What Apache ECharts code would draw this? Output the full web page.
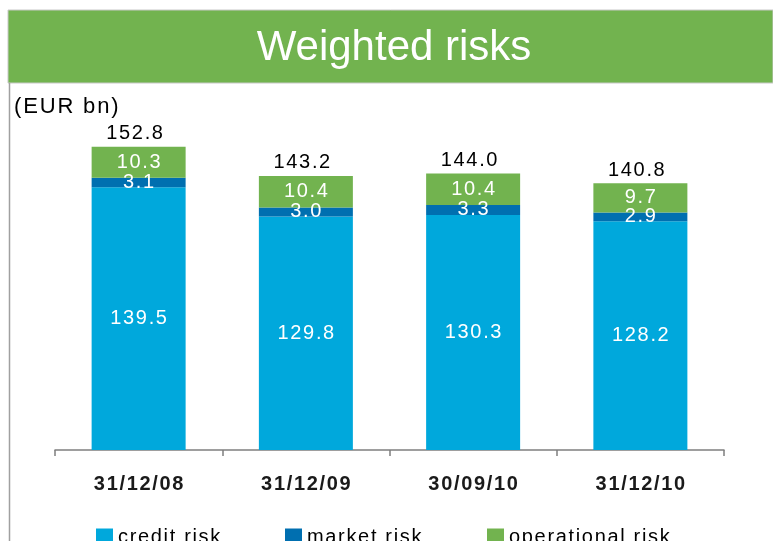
<!DOCTYPE html>
<html>
<head>
<meta charset="utf-8">
<script src="https://cdn.jsdelivr.net/npm/echarts@6/dist/echarts.min.js"></script>
<style>
  html, body { margin: 0; padding: 0; background: #fff; }
  #chart { width: 773px; height: 541px; }
</style>
</head>
<body>
<div id="chart"></div>
<script>
  var categories = ['31/12/08', '31/12/09', '30/09/10', '31/12/10'];
  var creditRisk = [139.5, 129.8, 130.3, 128.2];
  var marketRisk = [3.1, 3.0, 3.3, 2.9];
  var operationalRisk = [10.3, 10.4, 10.4, 9.7];
  var totals = [152.8, 143.2, 144.0, 140.8];

  // the original text is drawn with a little extra spacing between letters
  var SP = '\u200A';
  function spaced(s) {
    return String(s).split('').join(SP);
  }
  function fmt(v) {
    return spaced(Number(v).toFixed(1));
  }

  var font = 'Liberation Sans';
  var innerLabel = {
    show: true,
    position: 'inside',
    color: '#fff',
    fontFamily: font,
    fontSize: 20,
    formatter: function (p) { return fmt(p.value); }
  };

  var chart = echarts.init(document.getElementById('chart'), null, { renderer: 'canvas' });
  chart.setOption({
    animation: false,
    grid: {
      top: 95,
      bottom: 91,
      left: 55,
      right: 49
    },
    graphic: [
      {
        type: 'rect',
        shape: { x: 8, y: 10, width: 765, height: 73 },
        style: { fill: '#72b34f', stroke: '#c8c8c8', lineWidth: 1 }
      },
      {
        type: 'text',
        x: 394,
        y: 48,
        style: {
          text: 'Weighted risks',
          fill: '#fff',
          font: '42px "Liberation Sans"',
          textAlign: 'center',
          textVerticalAlign: 'middle'
        }
      },
      {
        type: 'line',
        shape: { x1: 9.5, y1: 83, x2: 9.5, y2: 541 },
        style: { stroke: '#a0a0a0', lineWidth: 1.5 }
      },
      {
        type: 'text',
        x: 14,
        y: 107,
        style: {
          text: spaced('(EUR bn)'),
          fill: '#000',
          font: '22px "Liberation Sans"',
          textAlign: 'left',
          textVerticalAlign: 'middle'
        }
      }
    ],
    legend: [
      {
        left: 96, top: 527, padding: 0, itemWidth: 17, itemHeight: 17,
        icon: 'rect', data: ['credit risk'],
        formatter: spaced,
        textStyle: { fontFamily: font, fontSize: 20, color: '#000' }
      },
      {
        left: 285, top: 527, padding: 0, itemWidth: 17, itemHeight: 17,
        icon: 'rect', data: ['market risk'],
        formatter: spaced,
        textStyle: { fontFamily: font, fontSize: 20, color: '#000' }
      },
      {
        left: 487, top: 527, padding: 0, itemWidth: 17, itemHeight: 17,
        icon: 'rect', data: ['operational risk'],
        formatter: spaced,
        textStyle: { fontFamily: font, fontSize: 20, color: '#000' }
      }
    ],
    xAxis: {
      type: 'category',
      data: categories,
      axisLine: { lineStyle: { color: '#7f7f7f', width: 1.5 } },
      axisTick: { show: true, length: 6, lineStyle: { color: '#7f7f7f', width: 1.5 } },
      axisLabel: {
        margin: 24,
        fontFamily: font,
        fontSize: 20,
        fontWeight: 'bold',
        color: '#1a1a1a',
        formatter: spaced
      }
    },
    yAxis: {
      type: 'value',
      min: 52.5,
      max: 170,
      show: false,
      splitLine: { show: false }
    },
    series: [
      {
        name: 'credit risk',
        type: 'bar',
        stack: 'total',
        barWidth: 94,
        data: creditRisk,
        itemStyle: { color: '#00a8dc' },
        label: innerLabel
      },
      {
        name: 'market risk',
        type: 'bar',
        stack: 'total',
        barWidth: 94,
        data: marketRisk,
        itemStyle: { color: '#006fb0' },
        label: innerLabel
      },
      {
        name: 'operational risk',
        type: 'bar',
        stack: 'total',
        barWidth: 94,
        data: operationalRisk,
        itemStyle: { color: '#72b34f' },
        label: innerLabel
      },
      {
        name: 'total',
        type: 'bar',
        stack: 'total',
        barWidth: 94,
        data: totals.map(function () { return 0; }),
        itemStyle: { color: 'transparent' },
        label: {
          show: true,
          position: 'top',
          distance: 3,
          offset: [-4, 0],
          color: '#000',
          fontFamily: font,
          fontSize: 20,
          formatter: function (p) { return fmt(totals[p.dataIndex]); }
        }
      }
    ]
  });
</script>
</body>
</html>
